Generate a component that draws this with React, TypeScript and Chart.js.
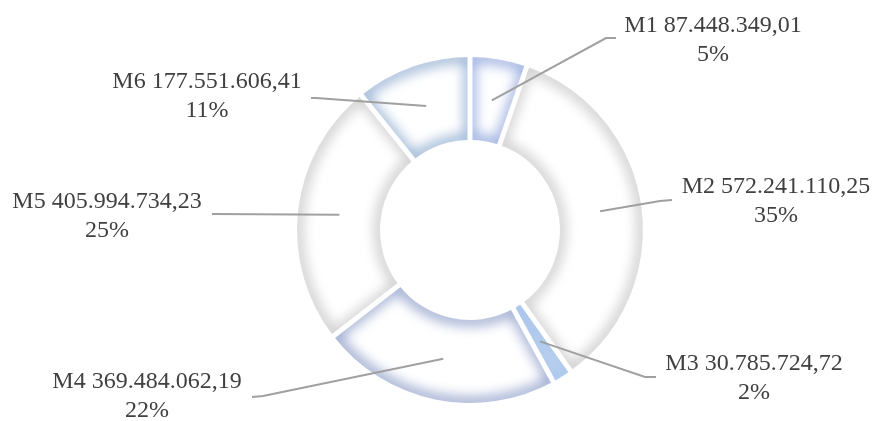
import React, { useEffect, useRef } from 'react';
import { Chart, registerables } from 'chart.js';

Chart.register(...registerables);

// ---- data ----
const categories = ['M1', 'M2', 'M3', 'M4', 'M5', 'M6'];
const values = [87448349.01, 572241110.25, 30785724.72, 369484062.19, 405994734.23, 177551606.41];

// ---- styles ----
const baseColors = ['#ffffff', '#ffffff', '#c6daf3', '#ffffff', '#ffffff', '#ffffff'];
const edgeColors = ['#8ea3dc', '#c6c6c6', '#a6c3ea', '#8c9cc8', '#c6c6c6', '#8eabcf'];

// label placement relative to the doughnut centre (px): text centre x, first baseline y, elbow, line end
const labelTextOffset = [[243, -198], [306, -37], [284, 140], [-323, 158], [-363, -22], [-263, -142]];
const labelElbowOffset = [[136, -192], [190, -29], [175, 147], [-207, 166], [-258, -16], [-154, -132]];
const labelEndOffset = [[146, -192], [202, -30], [186, 147], [-218, 167], [-258, -16], [-159, -132]];

function formatDE(v: number): string {
  const fixed = v.toFixed(2);
  const [intPart, dec] = fixed.split('.');
  const withDots = intPart.replace(/\B(?=(\d{3})+(?!\d))/g, '.');
  return withDots + ',' + dec;
}

function arcPath(ctx: CanvasRenderingContext2D, p: any, dx: number) {
  ctx.beginPath();
  ctx.arc(p.x + dx, p.y, p.outerRadius, p.startAngle, p.endAngle);
  ctx.arc(p.x + dx, p.y, p.innerRadius, p.endAngle, p.startAngle, true);
  ctx.closePath();
}

const SHIFT = 4000;

const softDonutPlugin = {
  id: 'softDonut',
  afterDatasetsDraw(chart: any) {
    const ctx: CanvasRenderingContext2D = chart.ctx;
    const meta = chart.getDatasetMeta(0);
    const total = values.reduce((a, b) => a + b, 0);
    const dpr = chart.currentDevicePixelRatio || 1;

    // soft inner glow (shadow only)
    meta.data.forEach((arc: any, i: number) => {
      const p = arc.getProps(['x', 'y', 'startAngle', 'endAngle', 'innerRadius', 'outerRadius'], true);
      ctx.save();
      arcPath(ctx, p, 0);
      ctx.clip();
      arcPath(ctx, p, -SHIFT);
      ctx.strokeStyle = edgeColors[i];
      ctx.shadowColor = edgeColors[i];
      ctx.shadowOffsetX = SHIFT * dpr;
      ctx.lineWidth = 10;
      ctx.shadowBlur = 13 * dpr;
      ctx.stroke();
      ctx.restore();
    });

    // white separators
    meta.data.forEach((arc: any) => {
      const p = arc.getProps(['x', 'y', 'startAngle', 'innerRadius', 'outerRadius'], true);
      ctx.save();
      ctx.strokeStyle = '#ffffff';
      ctx.lineWidth = 5;
      ctx.beginPath();
      ctx.moveTo(p.x + Math.cos(p.startAngle) * (p.innerRadius - 3), p.y + Math.sin(p.startAngle) * (p.innerRadius - 3));
      ctx.lineTo(p.x + Math.cos(p.startAngle) * (p.outerRadius + 3), p.y + Math.sin(p.startAngle) * (p.outerRadius + 3));
      ctx.stroke();
      ctx.restore();
    });

    // labels with leader lines
    meta.data.forEach((arc: any, i: number) => {
      const p = arc.getProps(['x', 'y', 'startAngle', 'endAngle', 'innerRadius', 'outerRadius'], true);
      const mid = (p.startAngle + p.endAngle) / 2;
      const r = (p.innerRadius + p.outerRadius) / 2;
      const ax = p.x + Math.cos(mid) * r;
      const ay = p.y + Math.sin(mid) * r;
      ctx.save();
      ctx.strokeStyle = '#a0a0a0';
      ctx.lineWidth = 2;
      ctx.beginPath();
      ctx.moveTo(ax, ay);
      ctx.lineTo(p.x + labelElbowOffset[i][0], p.y + labelElbowOffset[i][1]);
      ctx.lineTo(p.x + labelEndOffset[i][0], p.y + labelEndOffset[i][1]);
      ctx.stroke();

      ctx.fillStyle = '#404040';
      ctx.font = '24px "Liberation Serif", serif';
      ctx.textAlign = 'center';
      ctx.textBaseline = 'alphabetic';
      const tx = p.x + labelTextOffset[i][0];
      const ty = p.y + labelTextOffset[i][1];
      const pct = Math.round((values[i] / total) * 100) + '%';
      ctx.fillText(categories[i] + ' ' + formatDE(values[i]), tx, ty);
      ctx.fillText(pct, tx, ty + 29);
      ctx.restore();
    });
  },
};

export default function App() {
  const canvasRef = useRef<HTMLCanvasElement | null>(null);

  useEffect(() => {
    document.body.style.margin = '0';
    const canvas = canvasRef.current;
    if (!canvas) return;
    const chart = new Chart(canvas, {
      type: 'doughnut',
      data: {
        labels: categories,
        datasets: [
          {
            data: values,
            backgroundColor: baseColors,
            borderWidth: 0,
            hoverOffset: 0,
          },
        ],
      },
      options: {
        responsive: true,
        maintainAspectRatio: false,
        animation: false,
        events: [],
        cutout: '52%',
        layout: { padding: { top: 57, bottom: 18, left: 84, right: 16 } },
        plugins: {
          legend: { display: false },
          tooltip: { enabled: false },
        },
      },
      plugins: [softDonutPlugin],
    });
    return () => chart.destroy();
  }, []);

  return (
    <div style={{ width: 872, height: 421, position: 'relative', background: '#ffffff' }}>
      <canvas ref={canvasRef} />
    </div>
  );
}
